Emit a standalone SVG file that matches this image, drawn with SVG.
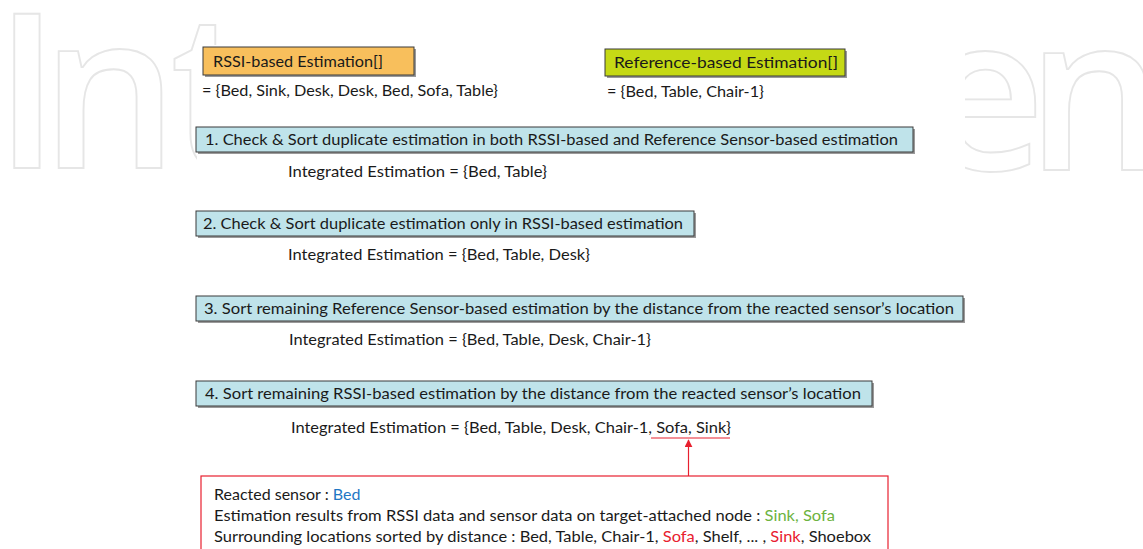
<svg xmlns="http://www.w3.org/2000/svg" width="1143" height="549" viewBox="0 0 1143 549">
<style>
.t{font-family:Lato,"Open Sans","Liberation Sans",sans-serif;font-size:16px;fill:#1a1a1a}
.box{stroke:#3a3a3a;stroke-width:1}
.sh{fill:#9a9a9a}
.step{fill:#bfe3ea}
.wm{font-family:"Open Sans","Noto Sans",sans-serif;font-weight:600;font-size:216px;fill:#ffffff;stroke:#e6e6e6;stroke-width:1.8}
.red{fill:#e8202f}
</style>
<defs>
<marker id="ah" viewBox="0 0 10 10" refX="9" refY="5" markerWidth="8" markerHeight="8" orient="auto" markerUnits="userSpaceOnUse">
<path d="M0,0 L10,5 L0,10 Z" fill="#e8202f"/>
</marker>
</defs>
<rect width="1143" height="549" fill="#ffffff"/>
<g id="watermark">
<text class="wm" x="-6" y="168">I<tspan dx="-19">n</tspan><tspan dx="-8">t</tspan></text>
<text class="wm" x="921" y="170">e<tspan dx="-19">n</tspan></text>
<rect x="197" y="45" width="768" height="504" fill="#ffffff"/>
</g>
<g id="rssi">
<rect class="sh" x="205" y="49" width="211" height="28"/>
<rect class="box" x="203" y="47" width="211" height="28" fill="#f8bf5c"/>
<text class="t" x="213" y="67" textLength="170" lengthAdjust="spacingAndGlyphs">RSSI-based Estimation[]</text>
<text class="t" x="202" y="96" textLength="296" lengthAdjust="spacingAndGlyphs">= {Bed, Sink, Desk, Desk, Bed, Sofa, Table}</text>
</g>
<g id="reference">
<rect class="sh" x="607" y="51" width="240" height="27"/>
<rect class="box" x="605" y="49" width="240" height="27" fill="#c5d915"/>
<text class="t" x="614" y="68" textLength="224" lengthAdjust="spacingAndGlyphs">Reference-based Estimation[]</text>
<text class="t" x="607" y="97" textLength="157" lengthAdjust="spacingAndGlyphs">= {Bed, Table, Chair-1}</text>
</g>
<g id="step1">
<rect class="sh" x="198" y="129" width="717" height="25"/>
<rect class="box step" x="196" y="127" width="717" height="25"/>
<text class="t" x="205" y="145" textLength="693" lengthAdjust="spacingAndGlyphs">1. Check &amp; Sort duplicate estimation in both RSSI-based and Reference Sensor-based estimation</text>
<text class="t" x="288" y="177" textLength="259" lengthAdjust="spacingAndGlyphs">Integrated Estimation = {Bed, Table}</text>
</g>
<g id="step2">
<rect class="sh" x="198" y="213" width="498" height="25"/>
<rect class="box step" x="196" y="211" width="498" height="25"/>
<text class="t" x="203" y="229" textLength="480" lengthAdjust="spacingAndGlyphs">2. Check &amp; Sort duplicate estimation only in RSSI-based estimation</text>
<text class="t" x="288" y="260" textLength="302" lengthAdjust="spacingAndGlyphs">Integrated Estimation = {Bed, Table, Desk}</text>
</g>
<g id="step3">
<rect class="sh" x="198" y="298" width="767" height="25"/>
<rect class="box step" x="196" y="296" width="767" height="25"/>
<text class="t" x="204" y="314" textLength="750" lengthAdjust="spacingAndGlyphs">3. Sort remaining Reference Sensor-based estimation by the distance from the reacted sensor’s location</text>
<text class="t" x="289" y="345" textLength="362" lengthAdjust="spacingAndGlyphs">Integrated Estimation = {Bed, Table, Desk, Chair-1}</text>
</g>
<g id="step4">
<rect class="sh" x="198" y="383" width="676" height="25"/>
<rect class="box step" x="196" y="381" width="676" height="25"/>
<text class="t" x="205" y="399" textLength="656" lengthAdjust="spacingAndGlyphs">4. Sort remaining RSSI-based estimation by the distance from the reacted sensor’s location</text>
<text class="t" x="291" y="433" textLength="440" lengthAdjust="spacingAndGlyphs">Integrated Estimation = {Bed, Table, Desk, Chair-1, Sofa, Sink}</text>
</g>
<g id="connectors">
<line x1="651" y1="438" x2="730" y2="438" stroke="#e8202f" stroke-width="1.2"/>
<line x1="688.5" y1="476" x2="688.5" y2="440" stroke="#e8202f" stroke-width="1.2" marker-end="url(#ah)"/>
</g>
<g id="note">
<rect x="201" y="476" width="687" height="80" fill="none" stroke="#e8202f" stroke-width="1.2"/>
<text class="t" x="214" y="500">Reacted sensor : <tspan fill="#1f77c4">Bed</tspan></text>
<text class="t" x="214" y="521" textLength="621" lengthAdjust="spacingAndGlyphs">Estimation results from RSSI data and sensor data on target-attached node : <tspan fill="#6db33f">Sink, Sofa</tspan></text>
<text class="t" x="214" y="542" textLength="657" lengthAdjust="spacingAndGlyphs">Surrounding locations sorted by distance : Bed, Table, Chair-1, <tspan class="red">Sofa</tspan>, Shelf, ... , <tspan class="red">Sink</tspan>, Shoebox</text>
</g>
</svg>
